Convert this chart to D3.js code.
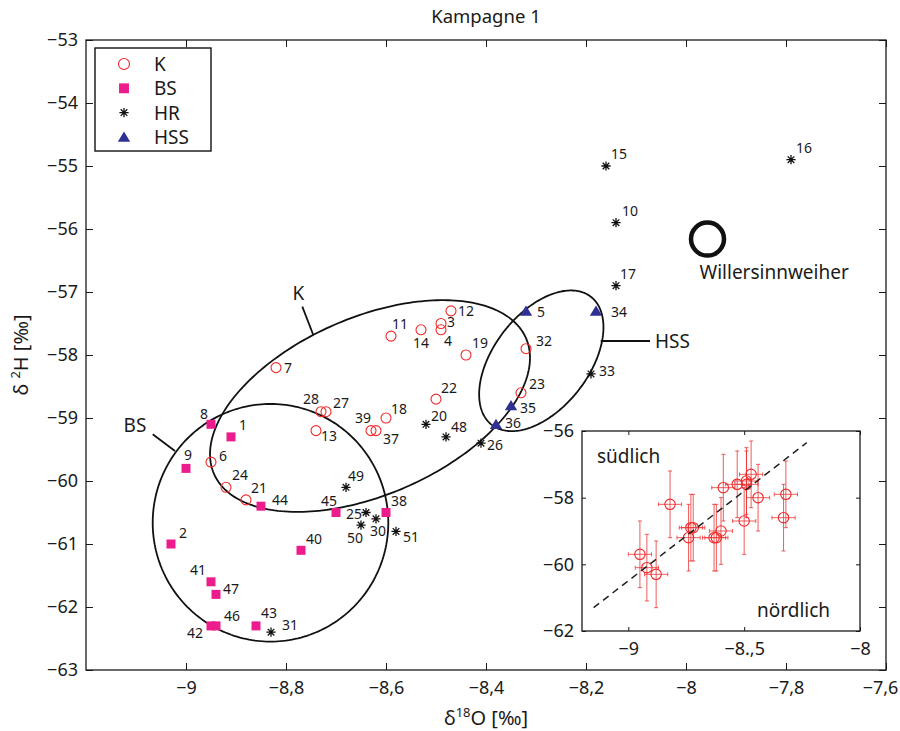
<!DOCTYPE html>
<html>
<head>
<meta charset="utf-8">
<script src="https://cdn.jsdelivr.net/npm/d3@7"></script>
<style>
  body { margin: 0; background: #fff; }
  svg { display: block; }
  text { font-family: "Noto Sans", "DejaVu Sans", sans-serif; fill: #1a1a1a; }
</style>
</head>
<body>
<svg id="chart" width="900" height="731"></svg>
<script>
// ---- Messwerte Kampagne 1: δ18O [‰] und δ2H [‰] je Messstelle ----
const pointsK = [
  {id: 7,  o: -8.82, h: -58.2}, {id: 28, o: -8.73, h: -58.9}, {id: 27, o: -8.72, h: -58.9},
  {id: 13, o: -8.74, h: -59.2}, {id: 39, o: -8.63, h: -59.2}, {id: 37, o: -8.62, h: -59.2},
  {id: 6,  o: -8.95, h: -59.7}, {id: 24, o: -8.92, h: -60.1}, {id: 21, o: -8.88, h: -60.3},
  {id: 11, o: -8.59, h: -57.7}, {id: 14, o: -8.53, h: -57.6}, {id: 3,  o: -8.49, h: -57.5},
  {id: 4,  o: -8.49, h: -57.6}, {id: 12, o: -8.47, h: -57.3}, {id: 19, o: -8.44, h: -58.0},
  {id: 22, o: -8.50, h: -58.7}, {id: 18, o: -8.60, h: -59.0}, {id: 32, o: -8.32, h: -57.9},
  {id: 23, o: -8.33, h: -58.6}
];
const pointsBS = [
  {id: 8,  o: -8.95, h: -59.1}, {id: 1,  o: -8.91, h: -59.3}, {id: 9,  o: -9.00, h: -59.8},
  {id: 44, o: -8.85, h: -60.4}, {id: 45, o: -8.70, h: -60.5}, {id: 38, o: -8.60, h: -60.5},
  {id: 2,  o: -9.03, h: -61.0}, {id: 40, o: -8.77, h: -61.1}, {id: 41, o: -8.95, h: -61.6},
  {id: 47, o: -8.94, h: -61.8}, {id: 42, o: -8.95, h: -62.3}, {id: 46, o: -8.94, h: -62.3},
  {id: 43, o: -8.86, h: -62.3}
];
const pointsHR = [
  {id: 15, o: -8.16, h: -55.0}, {id: 16, o: -7.79, h: -54.9}, {id: 10, o: -8.14, h: -55.9},
  {id: 17, o: -8.14, h: -56.9}, {id: 33, o: -8.19, h: -58.3}, {id: 20, o: -8.52, h: -59.1},
  {id: 48, o: -8.48, h: -59.3}, {id: 26, o: -8.41, h: -59.4}, {id: 49, o: -8.68, h: -60.1},
  {id: 25, o: -8.64, h: -60.5}, {id: 50, o: -8.65, h: -60.7}, {id: 30, o: -8.62, h: -60.6},
  {id: 51, o: -8.58, h: -60.8}, {id: 31, o: -8.83, h: -62.4}
];
const pointsHSS = [
  {id: 5,  o: -8.32, h: -57.3}, {id: 34, o: -8.18, h: -57.3},
  {id: 35, o: -8.35, h: -58.8}, {id: 36, o: -8.38, h: -59.1}
];
const lake = {name: "Willersinnweiher", o: -7.957, h: -56.16};

// Messunsicherheit der K-Proben (Einschub)
const errO18 = 0.05;
const errH2 = 1.0;
// Ausgleichsgerade im Einschub
const regressionLine = [{o: -9.15, h: -61.3}, {o: -8.23, h: -56.35}];

// Achsenbeschriftung
const xTicks = [-9, -8.8, -8.6, -8.4, -8.2, -8, -7.8, -7.6];
const yTicks = [-63, -62, -61, -60, -59, -58, -57, -56, -55, -54, -53];
const insetXTicks = [-9, -8.5, -8];
const insetXTickLabels = ["−9", "−8.,5", "−8"];
const insetYTicks = [-62, -60, -58, -56];

const legendItems = [
  {name: "K", kind: "circle"}, {name: "BS", kind: "square"},
  {name: "HR", kind: "star"}, {name: "HSS", kind: "triangle"}
];

// Gruppen-Ellipsen: Mittelpunkt und zwei konjugierte Halbachsen-Endpunkte (Datenkoordinaten)
const groupEllipses = [
  {name: "K",   c: [-8.632, -58.81],  m: [-8.320, -57.733],  n: [-8.561, -60.10]},
  {name: "HSS", c: [-8.2894, -58.092], m: [-8.1904, -57.0746], n: [-8.2142, -58.552]},
  {name: "BS",  c: [-8.831, -60.663],  m: [-8.5954, -60.663],  n: [-8.831, -62.549]}
];
const ellipseCallouts = [
  {name: "K",   from: [-8.7674, -57.233], to: [-8.7454, -57.683], label: [-8.7754, -57.021], anchor: "middle"},
  {name: "BS",  from: [-9.0666, -59.259], to: [-9.022, -59.524],  label: [-9.102, -59.111],  anchor: "middle"},
  {name: "HSS", from: [-8.1706, -57.778], to: [-8.072, -57.778],  label: [-8.062, -57.778],  anchor: "start"}
];

// Lage der Nummern relativ zum Symbol (px)
const labelOffset = {
  7: [12, 0], 28: [-10, -13], 27: [15, -9], 13: [13, 5], 39: [-8, -13], 37: [15, 8],
  6: [12, -7], 24: [14, -13], 21: [13, -12], 11: [9, -13], 14: [0, 13], 3: [10, -2],
  4: [7, 11], 12: [15, 0], 19: [14, -13], 22: [13, -12], 18: [13, -10], 32: [18, -8], 23: [16, -9],
  8: [-7, -11], 1: [12, -12], 9: [2, -14], 44: [19, -7], 45: [-7, -12], 38: [13, -12],
  2: [12, -12], 40: [13, -12], 41: [-13, -12], 47: [15, -6], 46: [16, -10], 42: [-16, 7], 43: [13, -13],
  15: [13, -13], 16: [13, -12], 10: [14, -12], 17: [12, -12], 33: [16, -3], 20: [13, -9],
  48: [13, -10], 26: [14, 1], 49: [10, -12], 25: [-12, 1], 50: [-6, 12], 30: [2, 12], 51: [15, 5], 31: [19, -8],
  5: [15, 1], 34: [23, 1], 35: [17, 2], 36: [17, -2]
};

// ---- Zeichnung ----
const svg = d3.select("#chart");
const colors = {K: "#ee2a2a", BS: "#ec1c8d", HR: "#111", HSS: "#2e3192"};
const tickFont = 18;

const plot = {left: 86, right: 886, top: 40, bottom: 670};
const x = d3.scaleLinear().domain([-9.2, -7.6]).range([plot.left, plot.right]);
const y = d3.scaleLinear().domain([-63, -53]).range([plot.bottom, plot.top]);

const de = d3.formatLocale({decimal: ",", thousands: ".", grouping: [3], currency: ["", "€"], minus: "\u2212"});
const fmt = de.format("~g");

function drawMarker(g, kind, size) {
  const s = size || 1;
  if (kind === "circle") {
    g.append("circle").attr("r", 5 * s).attr("fill", "none")
      .attr("stroke", colors.K).attr("stroke-width", 1.1);
  } else if (kind === "square") {
    g.append("rect").attr("x", -4.5 * s).attr("y", -4.5 * s).attr("width", 9 * s).attr("height", 9 * s)
      .attr("fill", colors.BS);
  } else if (kind === "star") {
    g.append("path").attr("d", "M-4.6,0H4.6M0,-4.6V4.6M-3.3,-3.3L3.3,3.3M-3.3,3.3L3.3,-3.3")
      .attr("stroke", colors.HR).attr("stroke-width", 1.3).attr("fill", "none");
  } else if (kind === "triangle") {
    g.append("path").attr("d", "M0,-5.5L6.2,4.8L-6.2,4.8Z").attr("fill", colors.HSS);
  }
}

// Achsen (Ticks nach innen, auf allen vier Seiten)
svg.append("g").attr("class", "xaxis").attr("transform", `translate(0,${plot.bottom})`)
  .call(d3.axisBottom(x).tickValues(xTicks).tickFormat(fmt).tickSizeInner(-7).tickSizeOuter(0).tickPadding(11))
  .call(g => g.select(".domain").remove());
svg.append("g").attr("transform", `translate(0,${plot.top})`)
  .call(d3.axisTop(x).tickValues(xTicks).tickFormat("").tickSizeInner(-7).tickSizeOuter(0))
  .call(g => g.select(".domain").remove());
svg.append("g").attr("transform", `translate(${plot.left},0)`)
  .call(d3.axisLeft(y).tickValues(yTicks).tickFormat(fmt).tickSizeInner(-7).tickSizeOuter(0).tickPadding(8))
  .call(g => g.select(".domain").remove());
svg.append("g").attr("transform", `translate(${plot.right},0)`)
  .call(d3.axisRight(y).tickValues(yTicks).tickFormat("").tickSizeInner(-7).tickSizeOuter(0))
  .call(g => g.select(".domain").remove());
svg.selectAll(".tick text").attr("font-size", tickFont).attr("font-family", "Noto Sans").attr("fill", "#1a1a1a");
svg.selectAll(".tick line").attr("stroke", "#1a1a1a");
// letzte Beschriftung am rechten Rand etwas einrücken
svg.selectAll(".xaxis .tick text").filter(d => d === -7.6).attr("dx", -6);

svg.append("rect").attr("x", plot.left).attr("y", plot.top)
  .attr("width", plot.right - plot.left).attr("height", plot.bottom - plot.top)
  .attr("fill", "none").attr("stroke", "#1a1a1a").attr("stroke-width", 1.3);

// Titel und Achsentitel
svg.append("text").attr("x", (plot.left + plot.right) / 2).attr("y", 15)
  .attr("text-anchor", "middle").attr("dominant-baseline", "central")
  .attr("font-size", 18.5).text("Kampagne 1");

const xl = svg.append("text").attr("x", (plot.left + plot.right) / 2).attr("y", 725)
  .attr("text-anchor", "middle").attr("font-size", 20);
xl.append("tspan").text("δ");
xl.append("tspan").attr("font-size", 13).attr("dy", -8).text("18");
xl.append("tspan").attr("dy", 8).text("O [‰]");

const yl = svg.append("text")
  .attr("transform", `translate(28,${(plot.top + plot.bottom) / 2}) rotate(-90)`)
  .attr("text-anchor", "middle").attr("font-size", 20);
yl.append("tspan").text("δ ");
yl.append("tspan").attr("font-size", 13).attr("dy", -8).text("2");
yl.append("tspan").attr("dy", 8).text("H [‰]");

// Gruppen-Ellipsen
function ellipsePath(e) {
  const cx = x(e.c[0]), cy = y(e.c[1]);
  const ux = x(e.m[0]) - cx, uy = y(e.m[1]) - cy;
  const vx = x(e.n[0]) - cx, vy = y(e.n[1]) - cy;
  const pts = d3.range(0, 2 * Math.PI, Math.PI / 120)
    .map(t => [cx + ux * Math.cos(t) + vx * Math.sin(t), cy + uy * Math.cos(t) + vy * Math.sin(t)]);
  return d3.line().curve(d3.curveLinearClosed)(pts);
}
svg.append("g").selectAll("path").data(groupEllipses).join("path")
  .attr("d", ellipsePath).attr("fill", "none").attr("stroke", "#111").attr("stroke-width", 1.8);

const callouts = svg.append("g");
ellipseCallouts.forEach(c => {
  callouts.append("line")
    .attr("x1", x(c.from[0])).attr("y1", y(c.from[1]))
    .attr("x2", x(c.to[0])).attr("y2", y(c.to[1]))
    .attr("stroke", "#111").attr("stroke-width", 1.8);
  callouts.append("text").attr("x", x(c.label[0])).attr("y", y(c.label[1]))
    .attr("text-anchor", c.anchor).attr("dominant-baseline", "central")
    .attr("font-size", 19).text(c.name);
});

// Messpunkte
const series = [
  {data: pointsK, kind: "circle"}, {data: pointsBS, kind: "square"},
  {data: pointsHR, kind: "star"}, {data: pointsHSS, kind: "triangle"}
];
const marks = svg.append("g");
series.forEach(s => {
  s.data.forEach(d => {
    const g = marks.append("g").attr("transform", `translate(${x(d.o)},${y(d.h)})`);
    drawMarker(g, s.kind);
    const off = labelOffset[d.id] || [12, -10];
    g.append("text").attr("x", off[0]).attr("y", off[1])
      .attr("text-anchor", "middle").attr("dominant-baseline", "central")
      .attr("font-size", 14).text(d.id);
  });
});

// Willersinnweiher
svg.append("circle").attr("cx", x(lake.o)).attr("cy", y(lake.h)).attr("r", 16.5)
  .attr("fill", "none").attr("stroke", "#111").attr("stroke-width", 4.5);
svg.append("text").attr("x", x(lake.o) - 8).attr("y", y(lake.h) + 33)
  .attr("dominant-baseline", "central").attr("font-size", 19).text(lake.name);

// Legende
const legend = svg.append("g").attr("transform", "translate(95,48)");
legend.append("rect").attr("width", 116).attr("height", 103)
  .attr("fill", "#fff").attr("stroke", "#111").attr("stroke-width", 1.4);
legendItems.forEach((it, i) => {
  const row = legend.append("g").attr("transform", `translate(29,${16 + i * 24.3})`);
  drawMarker(row, it.kind, 1.1);
  row.append("text").attr("x", 30).attr("y", 0).attr("dominant-baseline", "central")
    .attr("font-size", 19).text(it.name);
});

// ---- Einschub: K-Proben mit Fehlerbalken ----
const inset = {left: 582, right: 860, top: 431, bottom: 631};
const xi = d3.scaleLinear().domain([-9.2, -8]).range([inset.left, inset.right]);
const yi = d3.scaleLinear().domain([-62, -56]).range([inset.bottom, inset.top]);

svg.append("rect").attr("x", inset.left).attr("y", inset.top)
  .attr("width", inset.right - inset.left).attr("height", inset.bottom - inset.top)
  .attr("fill", "#fff");

const ig = svg.append("g");
ig.append("g").attr("transform", `translate(0,${inset.bottom})`)
  .call(d3.axisBottom(xi).tickValues(insetXTicks).tickFormat((d, i) => insetXTickLabels[i])
    .tickSizeInner(-4).tickSizeOuter(0).tickPadding(11))
  .call(g => g.select(".domain").remove());
ig.append("g").attr("transform", `translate(0,${inset.top})`)
  .call(d3.axisTop(xi).tickValues(insetXTicks).tickFormat("").tickSizeInner(-4).tickSizeOuter(0))
  .call(g => g.select(".domain").remove());
ig.append("g").attr("transform", `translate(${inset.left},0)`)
  .call(d3.axisLeft(yi).tickValues(insetYTicks).tickFormat(fmt).tickSizeInner(-4).tickSizeOuter(0).tickPadding(8))
  .call(g => g.select(".domain").remove());
ig.append("g").attr("transform", `translate(${inset.right},0)`)
  .call(d3.axisRight(yi).tickValues(insetYTicks).tickFormat("").tickSizeInner(-4).tickSizeOuter(0))
  .call(g => g.select(".domain").remove());
ig.selectAll(".tick text").attr("font-size", tickFont).attr("font-family", "Noto Sans").attr("fill", "#1a1a1a");
ig.selectAll(".tick line").attr("stroke", "#1a1a1a");

// Fehlerbalken
const eb = ig.append("g").attr("stroke", "#ee3333").attr("stroke-width", 1).attr("stroke-opacity", 0.8);
pointsK.forEach(d => {
  const cx = xi(d.o), cy = yi(d.h);
  const x0 = xi(d.o - errO18), x1 = xi(d.o + errO18);
  const y0 = yi(d.h - errH2), y1 = yi(d.h + errH2);
  eb.append("line").attr("x1", cx).attr("x2", cx).attr("y1", y0).attr("y2", y1);
  eb.append("line").attr("x1", cx - 2).attr("x2", cx + 2).attr("y1", y0).attr("y2", y0);
  eb.append("line").attr("x1", cx - 2).attr("x2", cx + 2).attr("y1", y1).attr("y2", y1);
  eb.append("line").attr("x1", x0).attr("x2", x1).attr("y1", cy).attr("y2", cy);
  eb.append("line").attr("x1", x0).attr("x2", x0).attr("y1", cy - 2).attr("y2", cy + 2);
  eb.append("line").attr("x1", x1).attr("x2", x1).attr("y1", cy - 2).attr("y2", cy + 2);
});
ig.append("g").selectAll("circle").data(pointsK).join("circle")
  .attr("cx", d => xi(d.o)).attr("cy", d => yi(d.h)).attr("r", 5.2)
  .attr("fill", "none").attr("stroke", colors.K).attr("stroke-width", 1.1);

ig.append("path").datum(regressionLine)
  .attr("d", d3.line().x(d => xi(d.o)).y(d => yi(d.h)))
  .attr("fill", "none").attr("stroke", "#222").attr("stroke-width", 1.5)
  .attr("stroke-dasharray", "7,5");

ig.append("text").attr("x", 597).attr("y", 456).attr("dominant-baseline", "central")
  .attr("font-size", 19).text("südlich");
ig.append("text").attr("x", 757).attr("y", 610).attr("dominant-baseline", "central")
  .attr("font-size", 19).text("nördlich");

ig.append("rect").attr("x", inset.left).attr("y", inset.top)
  .attr("width", inset.right - inset.left).attr("height", inset.bottom - inset.top)
  .attr("fill", "none").attr("stroke", "#1a1a1a").attr("stroke-width", 1.3);
</script>
</body>
</html>
